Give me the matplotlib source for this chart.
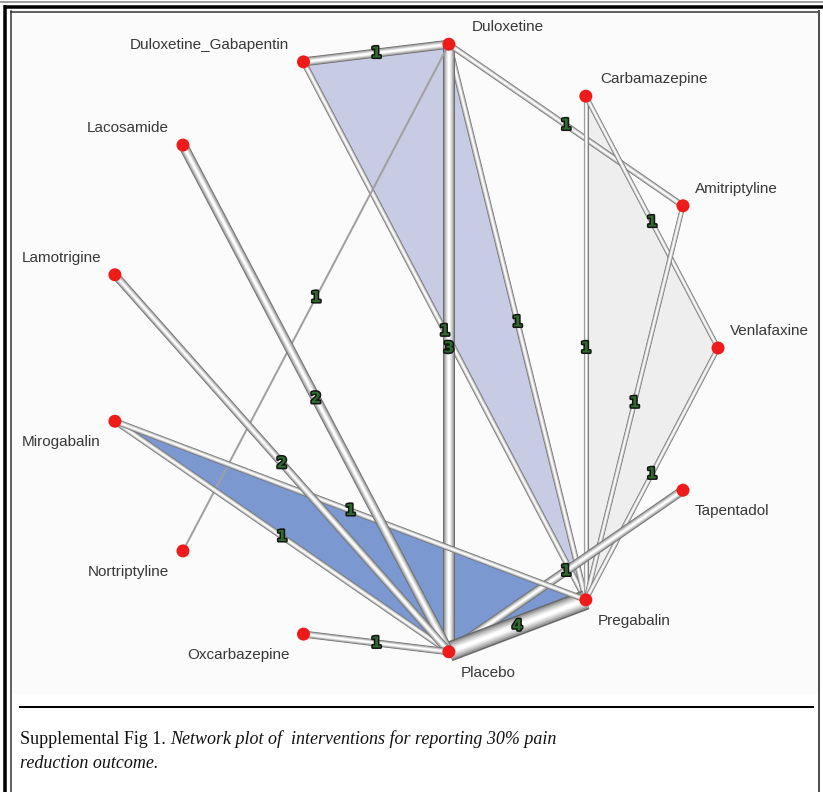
import numpy as np
import matplotlib
matplotlib.use("Agg")
import matplotlib.pyplot as plt
from matplotlib import patheffects as pe
from matplotlib.patches import Polygon

# Treatments, placed alphabetically (counter-clockwise) on a circle
treatments = ["Amitriptyline", "Carbamazepine", "Duloxetine", "Duloxetine_Gabapentin",
              "Lacosamide", "Lamotrigine", "Mirogabalin", "Nortriptyline",
              "Oxcarbazepine", "Placebo", "Pregabalin", "Tapentadol", "Venlafaxine"]

# Direct comparisons and the number of studies behind each one
edge_from = ["Duloxetine_Gabapentin", "Duloxetine_Gabapentin", "Duloxetine", "Duloxetine",
             "Duloxetine", "Duloxetine", "Carbamazepine", "Carbamazepine",
             "Amitriptyline", "Venlafaxine", "Tapentadol", "Pregabalin",
             "Mirogabalin", "Mirogabalin", "Lacosamide", "Lamotrigine", "Oxcarbazepine"]
edge_to = ["Duloxetine", "Pregabalin", "Pregabalin", "Placebo",
           "Amitriptyline", "Nortriptyline", "Pregabalin", "Venlafaxine",
           "Pregabalin", "Pregabalin", "Placebo", "Placebo",
           "Placebo", "Pregabalin", "Placebo", "Placebo", "Placebo"]
n_studies = [1, 1, 1, 3, 1, 1, 1, 1, 1, 1, 1, 4, 1, 1, 2, 2, 1]

# Line thickness (pixels) of each comparison
edge_width_px = [9, 6, 6, 12, 6, 2, 5, 5, 5, 5, 9, 20, 6, 6, 10, 8, 7]

# Multi-arm trials, shaded as polygons
multiarm_trials = [("Duloxetine_Gabapentin", "Duloxetine", "Pregabalin"),
                   ("Carbamazepine", "Venlafaxine", "Pregabalin"),
                   ("Mirogabalin", "Placebo", "Pregabalin")]
multiarm_colors = ["#c7cce4", "#eeeeee", "#7b98d1"]

caption_regular = "Supplemental Fig 1. "
caption_italic_1 = "Network plot of  interventions for reporting 30% pain"
caption_italic_2 = "reduction outcome."

W, H, DPI = 823, 792, 100
PX = 72.0 / DPI  # points per pixel

fig = plt.figure(figsize=(W / DPI, H / DPI), dpi=DPI)
fig.patch.set_facecolor("white")

# Page decoration in pixel coordinates
bg = fig.add_axes([0, 0, 1, 1])
bg.set_xlim(0, W)
bg.set_ylim(H, 0)
bg.axis("off")
bg.add_patch(plt.Rectangle((12, 12), 806, 682, facecolor="#fbfbfb", edgecolor="none", zorder=0))
bg.plot([0, W], [2, 2], color="#a0a0a0", lw=2 * PX, zorder=5)
bg.plot([4, W], [6.5, 6.5], color="black", lw=3.5 * PX, zorder=5, solid_capstyle="butt")
bg.plot([5.5, 5.5], [5, H], color="black", lw=3.5 * PX, zorder=5, solid_capstyle="butt")
bg.plot([11.5, 11.5], [11, H], color="#303030", lw=1.5 * PX, zorder=5)
bg.plot([11, 819.5], [11.5, 11.5], color="#303030", lw=1.5 * PX, zorder=5)
bg.plot([819.5, 819.5], [11, H], color="#505050", lw=2 * PX, zorder=5)
bg.plot([20, 813], [707, 707], color="black", lw=2 * PX, zorder=5)

t1 = bg.text(20, 740, caption_regular, family="Liberation Serif", fontsize=13,
             ha="left", va="center", color="#111111")
bg.annotate(caption_italic_1, xy=(1, 0), xycoords=t1, va="bottom", ha="left",
            family="Liberation Serif", style="italic", fontsize=13, color="#111111")
bg.text(20, 764, caption_italic_2, family="Liberation Serif", style="italic",
        fontsize=13, ha="left", va="center", color="#111111")

# Network axes: unit circle layout, radius 306 px centred at (412, 348) px
R_PX, CX, CY, LIM = 306.0, 412.0, 348.0, 1.35
half = LIM * R_PX
ax = fig.add_axes([(CX - half) / W, (H - CY - half) / H, 2 * half / W, 2 * half / H])
ax.set_xlim(-LIM, LIM)
ax.set_ylim(-LIM, LIM)
ax.axis("off")
ax.set_facecolor("none")

n = len(treatments)
theta = 2 * np.pi * (np.arange(n) + 1) / n
pos = {t: (np.cos(a), np.sin(a)) for t, a in zip(treatments, theta)}

for tri, col in zip(multiarm_trials, multiarm_colors):
    ax.add_patch(Polygon([pos[t] for t in tri], closed=True, facecolor=col,
                         edgecolor="none", zorder=1))


def tube(p, q, w, z):
    xs, ys = [p[0], q[0]], [p[1], q[1]]
    if w <= 3:
        ax.plot(xs, ys, color="#a0a0a0", lw=w * PX, zorder=z, solid_capstyle="butt")
        return
    layers = 6
    for k in range(layers):
        f = k / (layers - 1)
        lw = w * (1 - 0.8 * f)
        g = 0.42 + 0.58 * f ** 0.7
        ax.plot(xs, ys, color=(g, g, g), lw=lw * PX, zorder=z + k * 0.001,
                solid_capstyle="butt")


for i, (a, b, w) in enumerate(zip(edge_from, edge_to, edge_width_px)):
    tube(pos[a], pos[b], w, 2 + i * 0.01)

for a, b, k in zip(edge_from, edge_to, n_studies):
    mx = (pos[a][0] + pos[b][0]) / 2
    my = (pos[a][1] + pos[b][1]) / 2
    ax.text(mx, my, str(k), ha="center", va="center", fontsize=11, fontweight="bold",
            color="#2f6a2f", zorder=8,
            path_effects=[pe.withStroke(linewidth=2.2, foreground="#141414")])

xs = [pos[t][0] for t in treatments]
ys = [pos[t][1] for t in treatments]
ax.scatter(xs, ys, s=(13 * PX) ** 2, color="#ef1b1b", edgecolors="none", zorder=10)

for t, a in zip(treatments, theta):
    c, s = np.cos(a), np.sin(a)
    right = c > 0.01
    extra = 14 * (1 - abs(c)) ** 2 if s > 0 else 0
    dx = (12 + extra if right else -14) * PX
    dy = (17 if s > 0 else -21) * PX
    ax.annotate(t, xy=pos[t], xytext=(dx, dy), textcoords="offset points",
                ha="left" if right else "right", va="center",
                family="Liberation Sans", fontsize=11, color="#383838", zorder=11)

fig.savefig("out.png", dpi=DPI, facecolor="white")
